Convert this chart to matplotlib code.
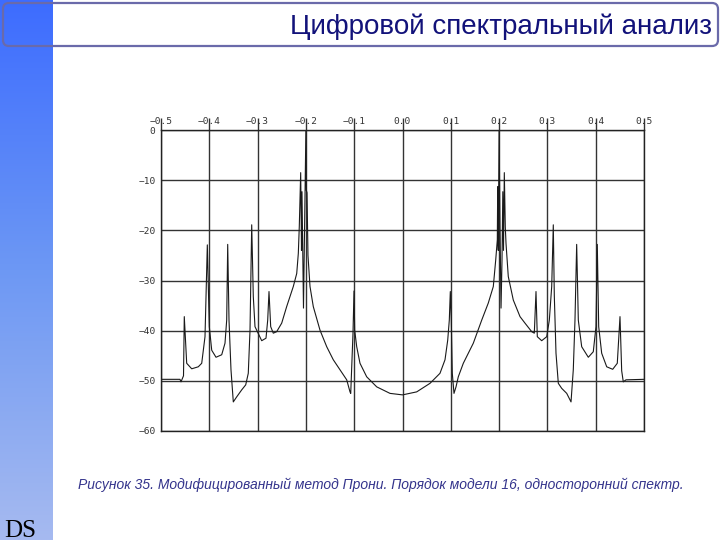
import numpy as np
import matplotlib
matplotlib.use("Agg")
import matplotlib.pyplot as plt
from matplotlib.patches import FancyBboxPatch
from matplotlib.colors import LinearSegmentedColormap

# данные спектра (нормированная частота, дБ)
freq = [-0.5, -0.4607, -0.4586, -0.4534, -0.4518, -0.4468, -0.4364, -0.4228,
        -0.4157, -0.4089, -0.4041, -0.4000, -0.3950, -0.3861, -0.3743, -0.3675,
        -0.3640, -0.3619, -0.3592, -0.3551, -0.3503, -0.3433, -0.3329, -0.3246,
        -0.3193, -0.3157, -0.3122, -0.3089, -0.3054, -0.2915, -0.2826, -0.2791,
        -0.2764, -0.2729, -0.2675, -0.2605, -0.2501, -0.2398, -0.2261, -0.2190,
        -0.2157, -0.2137, -0.2108, -0.2091, -0.2081, -0.2064, -0.2050, -0.2029,
        -0.2000, -0.1992, -0.1977, -0.1957, -0.1915, -0.1847, -0.1708, -0.1569,
        -0.1433, -0.1294, -0.1155, -0.1087, -0.1072, -0.1046, -0.1025, -0.1004,
        -0.0990, -0.0948, -0.0880, -0.0741, -0.0534, -0.0259, 0.0,
        0.0294, 0.0569, 0.0776, 0.0880, 0.0936, 0.0969, 0.0990, 0.1010,
        0.1031, 0.1066, 0.1108, 0.1155, 0.1259, 0.1466, 0.1640, 0.1776,
        0.1880, 0.1930, 0.1963, 0.1971, 0.1983, 0.2000, 0.2019, 0.2040,
        0.2060, 0.2077, 0.2091, 0.2108, 0.2128, 0.2143, 0.2190, 0.2294,
        0.2433, 0.2536, 0.2675, 0.2729, 0.2764, 0.2791, 0.2882, 0.2986,
        0.3040, 0.3089, 0.3122, 0.3143, 0.3178, 0.3226, 0.3296, 0.3400,
        0.3468, 0.3489, 0.3536, 0.3571, 0.3606, 0.3640, 0.3710, 0.3847,
        0.3950, 0.4006, 0.4033, 0.4062, 0.4124, 0.4228, 0.4352, 0.4447,
        0.4503, 0.4538, 0.4571, 0.4627, 0.5]
level = [-49.7, -49.7, -50.2, -49.0, -37.2, -46.5, -47.6, -47.2,
         -46.5, -41.2, -22.9, -39.2, -43.9, -45.3, -44.8, -42.5,
         -37.9, -22.8, -37.9, -47.8, -54.2, -53.2, -51.8, -50.8,
         -48.5, -39.9, -18.9, -33.2, -39.2, -42.0, -41.5, -37.9,
         -32.2, -39.2, -40.5, -40.2, -38.5, -35.2, -31.2, -28.6,
         -24.6, -19.3, -8.5, -24.0, -12.3, -26.0, -35.5, -20.0,
         0.0, -12.0, -12.5, -25.0, -31.2, -35.2, -39.9, -43.2,
         -45.8, -47.8, -49.8, -52.2, -52.5, -45.8, -40.5, -32.1,
         -39.9, -43.2, -46.5, -49.2, -51.2, -52.5, -52.8,
         -52.2, -50.5, -48.5, -45.8, -41.9, -37.9, -32.2, -37.9,
         -48.5, -52.5, -51.2, -49.2, -46.5, -42.5, -37.9, -34.5,
         -31.2, -25.9, -21.9, -11.3, -24.0, 0.0, -20.0, -35.5,
         -26.0, -12.3, -24.0, -8.5, -19.3, -22.6, -29.2, -33.9,
         -37.2, -38.5, -40.2, -40.5, -32.2, -41.2, -42.0, -41.2,
         -37.9, -31.2, -18.9, -33.0, -44.5, -50.5, -51.5, -52.5,
         -53.8, -54.2, -47.8, -37.9, -22.8, -37.9, -43.2, -45.3,
         -44.2, -39.2, -22.8, -39.2, -44.5, -47.2, -47.7, -46.5,
         -37.2, -48.0, -50.2, -49.8, -49.7]

x_ticks = [-0.5, -0.4, -0.3, -0.2, -0.1, 0.0, 0.1, 0.2, 0.3, 0.4, 0.5]
x_labels = ["−0.5", "−0.4", "−0.3", "−0.2", "−0.1", "0.0",
            "0.1", "0.2", "0.3", "0.4", "0.5"]
y_ticks = [0, -10, -20, -30, -40, -50, -60]
y_labels = ["0", "−10", "−20", "−30", "−40", "−50", "−60"]

title = "Цифровой спектральный анализ"
caption = ("Рисунок 35. Модифицированный метод Прони. "
           "Порядок модели 16, односторонний спектр.")

fig = plt.figure(figsize=(7.2, 5.4), dpi=100)

# фон слайда в пикселях
bg = fig.add_axes([0, 0, 1, 1])
bg.set_xlim(0, 720)
bg.set_ylim(540, 0)
bg.axis("off")

cmap = LinearSegmentedColormap.from_list("bar", ["#3d6cff", "#6d98f4", "#a6baf0"])
grad = np.linspace(0, 1, 256).reshape(-1, 1)
bg.imshow(grad, cmap=cmap, extent=(0, 53, 540, 0), aspect="auto", zorder=1)

box = FancyBboxPatch((9, 9), 703, 31, boxstyle="round,pad=6",
                     facecolor="none", edgecolor="#6a6aaa", lw=1.6, zorder=2)
bg.add_patch(box)
bg.text(712, 34, title, ha="right", va="baseline", fontsize=20,
        family="Liberation Sans", color="#12127a", zorder=3)
bg.text(78, 489, caption, ha="left", va="baseline", fontsize=10,
        family="Liberation Sans", style="italic", color="#34348c")
bg.text(4, 537, "DS", ha="left", va="baseline", fontsize=18,
        family="Liberation Serif", color="black")

# сам график
ax = fig.add_axes([161 / 720, 1 - 431 / 540, 483 / 720, 301 / 540])
ax.plot(freq, level, color="#1a1a1a", lw=0.8)
ax.set_xlim(-0.5, 0.5)
ax.set_ylim(-60, 0)
ax.xaxis.tick_top()
ax.set_xticks(x_ticks)
ax.set_xticklabels(x_labels, family="DejaVu Sans Mono")
ax.set_yticks(y_ticks)
ax.set_yticklabels(y_labels, family="DejaVu Sans Mono")
ax.tick_params(axis="x", length=9, width=1, color="#333333", pad=-6,
               labelsize=6.8, labelcolor="#333333")
ax.tick_params(axis="y", length=0, pad=4, labelsize=6.8, labelcolor="#333333")
ax.grid(True, color="#333333", lw=1)
for s in ax.spines.values():
    s.set_color("#222222")
    s.set_linewidth(1)

fig.savefig("out.png", dpi=100)
